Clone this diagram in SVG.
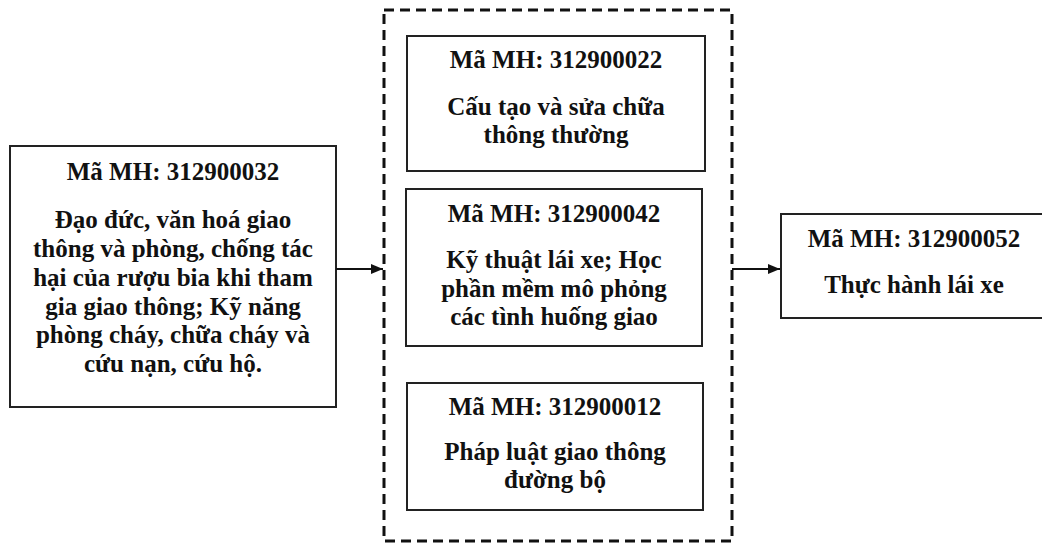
<svg xmlns="http://www.w3.org/2000/svg" width="1042" height="546" viewBox="0 0 1042 546">
<style>
.box{fill:#fff;stroke:#222;stroke-width:2}
.grp{fill:none;stroke:#111;stroke-width:3;stroke-dasharray:10 6}
text{font-family:"Liberation Serif","Times New Roman",serif;font-weight:bold;font-size:25px;fill:#111;text-anchor:middle}
.con{stroke:#111;stroke-width:2;fill:none}
</style>
<defs>
<marker id="ah" viewBox="0 0 12 10" refX="12" refY="5" markerWidth="12" markerHeight="10" markerUnits="userSpaceOnUse" orient="auto">
<path d="M0,0 L12,5 L0,10 Z" fill="#111"/>
</marker>
</defs>
<rect width="1042" height="546" fill="#fff"/>
<g id="group-box">
<rect class="grp" x="384" y="10" width="348" height="531"/>
</g>
<g id="node-032">
<rect class="box" x="10" y="146" width="326" height="261"/>
<text x="173" y="180">Mã MH: 312900032</text>
<text x="173" y="228">Đạo đức, văn hoá giao</text>
<text x="173" y="257">thông và phòng, chống tác</text>
<text x="173" y="286">hại của rượu bia khi tham</text>
<text x="173" y="315">gia giao thông; Kỹ năng</text>
<text x="173" y="343">phòng cháy, chữa cháy và</text>
<text x="173" y="372">cứu nạn, cứu hộ.</text>
</g>
<g id="node-022">
<rect class="box" x="407" y="36" width="298" height="135"/>
<text x="556" y="68">Mã MH: 312900022</text>
<text x="556" y="115">Cấu tạo và sửa chữa</text>
<text x="556" y="143">thông thường</text>
</g>
<g id="node-042">
<rect class="box" x="406" y="189" width="296" height="157"/>
<text x="554" y="222">Mã MH: 312900042</text>
<text x="554" y="268">Kỹ thuật lái xe; Học</text>
<text x="554" y="297">phần mềm mô phỏng</text>
<text x="554" y="325">các tình huống giao</text>
</g>
<g id="node-012">
<rect class="box" x="407" y="383" width="296" height="127"/>
<text x="555" y="415">Mã MH: 312900012</text>
<text x="555" y="460">Pháp luật giao thông</text>
<text x="555" y="488">đường bộ</text>
</g>
<g id="node-052">
<rect class="box" x="781" y="214" width="280" height="104"/>
<text x="914" y="247">Mã MH: 312900052</text>
<text x="914" y="293">Thực hành lái xe</text>
</g>
<g id="connectors">
<line class="con" x1="336" y1="269" x2="383" y2="269" marker-end="url(#ah)"/>
<line class="con" x1="732" y1="269" x2="780" y2="269" marker-end="url(#ah)"/>
</g>
</svg>
